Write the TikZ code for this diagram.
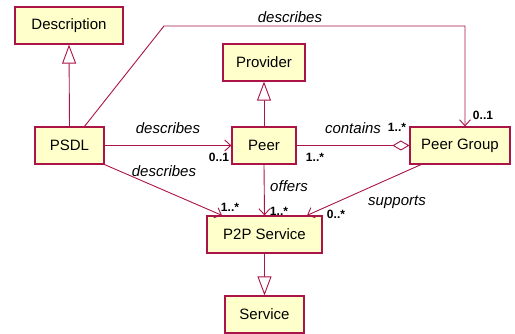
\documentclass[tikz,border=0pt]{standalone}
\usepackage{fontspec}
\setmainfont{Liberation Sans}
\usetikzlibrary{arrows.meta}
\definecolor{umlred}{RGB}{170,20,70}
\definecolor{umlfill}{RGB}{255,255,204}
\begin{document}
\begin{tikzpicture}[x=1pt,y=-1pt,
  cls/.style={draw=umlred,fill=umlfill,line width=1.2pt,minimum height=37pt,inner sep=0pt,font=\fontsize{15}{17}\selectfont},
  conn/.style={draw=umlred,line width=0.9pt},
  gen/.style={conn,-{Triangle[open,length=19pt,width=14pt,fill=white]}},
  assoc/.style={conn,-{Straight Barb[length=6pt,width=11pt]}},
  agg/.style={conn,{Diamond[open,length=17pt,width=10pt,fill=white]}-},
  lab/.style={font=\fontsize{15}{17}\selectfont\itshape,inner sep=0pt},
  mult/.style={font=\fontsize{12}{14}\selectfont\bfseries,inner sep=0pt}]
\useasboundingbox (0,0) rectangle (515,334);
\node[cls,minimum width=108pt] (desc) at (69,25.5) {Description};
\node[cls,minimum width=69pt] (psdl) at (69.5,145.5) {PSDL};
\node[cls,minimum width=82pt] (prov) at (264,62.5) {Provider};
\node[cls,minimum width=64pt] (peer) at (264,145.5) {Peer};
\node[cls,minimum width=100pt] (pg) at (460,145.5) {Peer Group};
\node[cls,minimum width=115pt] (p2p) at (264.5,234.5) {P2P Service};
\node[cls,minimum width=79pt] (serv) at (264.5,314.5) {Service};
\coordinate (bend) at (164,26);
% generalizations
\draw[gen] (psdl.north) -- (desc.south);
\draw[gen] (peer.north) -- (prov.south);
\draw[gen] (p2p.south) -- (serv.north);
% associations
\draw[assoc] ([xshift=15pt]psdl.north) -- (bend) -| ([xshift=5pt]pg.north);
\draw[assoc] (psdl.east) -- (peer.west);
\draw[assoc] (psdl.south east) -- ([xshift=-42.5pt]p2p.north);
\draw[conn,-{Diamond[open,length=17pt,width=10pt,fill=white]}] (peer.east) -- (pg.west);
\draw[agg,-{Straight Barb[length=6pt,width=11pt]}] (peer.south) -- (p2p.north);
\draw[assoc] ([xshift=-39pt]pg.south) -- ([xshift=42.5pt]p2p.north);
% labels
\node[lab] (l1) at (290,17) {describes};
\node[mult] (m1) at (483,115) {0..1};
\node[lab] (l2) at (168,128) {describes};
\node[mult] (m2) at (219,157) {0..1};
\node[lab] (l3) at (164,171) {describes};
\node[mult] (m3) at (230,207) {1..*};
\node[lab] (l4) at (353,128) {contains};
\node[mult] (m4) at (397,127) {1..*};
\node[mult] (m5) at (315,157) {1..*};
\node[lab] (l5) at (289,186) {offers};
\node[mult] (m6) at (279,211) {1..*};
\node[lab] (l6) at (397,202) {supports};
\node[mult] (m7) at (336,214) {0..*};
\end{tikzpicture}
\end{document}
